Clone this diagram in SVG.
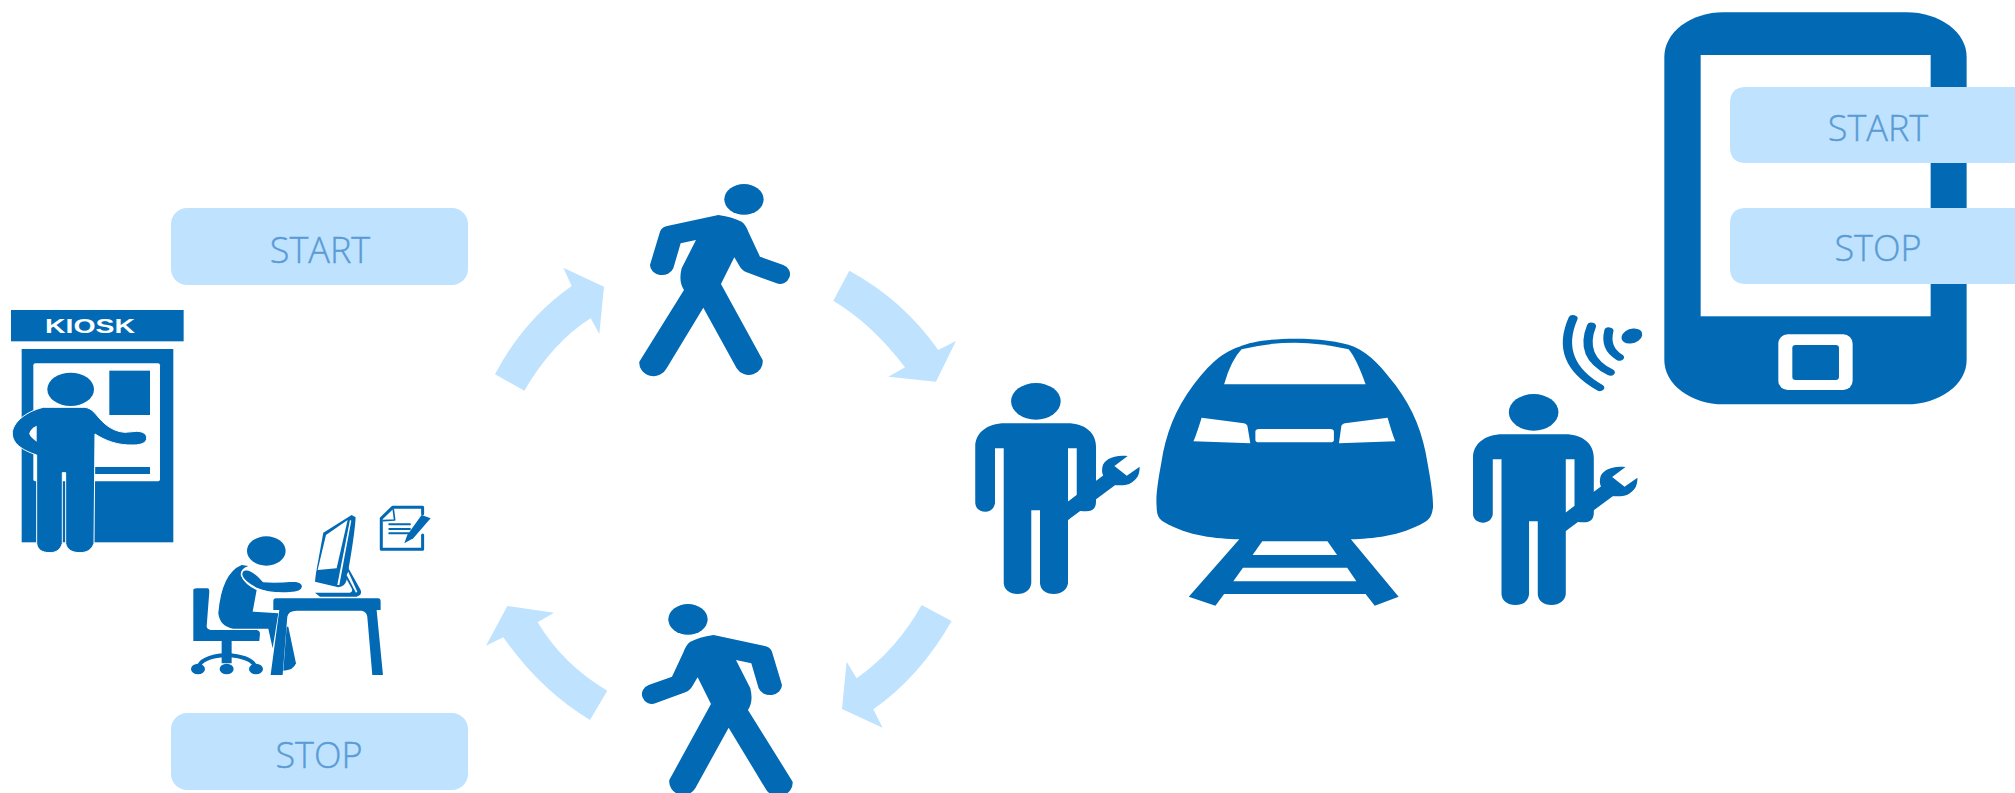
<svg xmlns="http://www.w3.org/2000/svg" xmlns:xlink="http://www.w3.org/1999/xlink" width="2015" height="793" viewBox="0 0 2015 793">
<style>
.b{fill:#0269b4}.w{fill:#fff}.l{fill:#bfe3ff}
.t{font-family:"Open Sans","Liberation Sans",sans-serif;font-weight:300;font-size:36px;fill:#5b9bd5;stroke:#5b9bd5;stroke-width:.4;text-anchor:middle}
.s{fill:none;stroke:#0269b4;stroke-linecap:round;stroke-linejoin:round}
</style>
<defs>
<g id="walker">
<ellipse class="b" cx="822" cy="118" rx="59" ry="46"/>
<path class="b" d="M745,165 Q790,172 815,185 Q828,195 835,215 L870,290 L940,315 A29,28 0 0 1 920,370 L830,337 Q815,330 810,320 L793,292 L753,372 L878,600 A42,40 0 0 1 800,625 L700,443 L590,625 A43,40 0 0 1 508,605 L642,390 Q625,365 635,325 L678,240 L632,250 L610,325 A36,30 0 0 1 540,315 L570,215 Q575,200 595,197 Z"/>
</g>
<g id="tech">
<ellipse class="b" cx="187" cy="244" rx="54" ry="55"/>
<path class="b" d="M120,310 L255,310 C295,310 318,340 318,380 L318,545 C318,565 310,574 297,574 C287,574 280,572 275,570 L257,600 L257,790 C255,810 243,822 226,822 C208,822 197,810 196,790 L196,571 L177,571 L177,790 C175,810 165,822 147,822 C130,822 118,810 117,790 L117,385 L98,385 L98,550 C96,566 88,575 77,575 C65,575 56,566 55,550 L55,380 C55,340 80,310 120,310Z"/>
<path class="w" d="M257,385 L276,385 L276,525 L257,545Z"/>
<path class="b" d="M257,545 L335,465 L360,495 L257,600Z"/>
<path class="b" d="M387,408 C355,403 335,420 332,440 C330,455 332,462 335,470 L345,492 C365,498 385,497 395,488 C410,475 413,460 413,440 L385,467 L358,438Z"/>
</g>
</defs>

<g id="connectors">
<g transform="translate(470,160) scale(0.3333)">
<path class="l" d="M75,643 Q160,480 305,378 L280,323 L402,380 L388,522 L362,475 Q250,545 163,692Z"/>
<path class="l" d="M1138,332 Q1300,420 1405,570 L1458,543 L1398,665 L1255,650 L1305,622 Q1210,495 1090,422Z"/>
</g>
<g transform="translate(470,580) scale(0.3333)">
<path class="l" d="M1355,75 Q1280,210 1160,295 L1130,245 L1116,387 L1238,443 L1210,388 Q1350,290 1445,123Z"/>
<path class="l" d="M412,332 Q280,255 203,127 L252,98 L112,78 L48,197 L100,172 Q210,330 360,420Z"/>
</g>
</g>

<g id="kiosk" transform="translate(0,280) scale(0.3333)">
<rect class="b" x="33" y="90" width="518" height="94"/>
<text x="270" y="159" font-family="Liberation Sans, sans-serif" font-weight="700" font-size="63" fill="#fff" text-anchor="middle" textLength="270" lengthAdjust="spacingAndGlyphs">KIOSK</text>
<rect class="b" x="65" y="207" width="455" height="580"/>
<rect class="w" x="100" y="250" width="380" height="354" rx="6"/>
<rect class="b" x="328" y="272" width="122" height="133"/>
<rect class="b" x="285" y="561" width="165" height="21"/>
<ellipse class="b" cx="212" cy="328" rx="70" ry="50"/>
<path class="b" stroke="#fff" stroke-width="3" d="M130,382 L255,382 C275,385 285,400 298,415 C320,440 345,455 375,457 L410,454 C430,454 440,463 440,474 C440,488 425,495 400,495 C355,497 315,482 285,462 L282,790 C275,810 260,818 240,818 C215,818 200,808 197,790 L197,578 L187,578 L187,790 C182,808 170,818 150,818 C125,818 112,808 110,790 L110,525 C65,510 37,490 37,460 C37,430 75,395 130,382Z"/>
<path class="w" d="M110,437 L110,485 Q88,470 88,460 Q92,445 110,437Z"/>
</g>

<g id="office-worker" transform="translate(0,280) scale(0.3333)">
<ellipse class="b" cx="799" cy="813" rx="58" ry="44"/>
<path class="b" d="M725,855 Q665,880 655,1000 Q660,1040 700,1046 L805,1046 L818,1105 L835,1000 L758,995 L770,930 Q735,915 722,885 Q722,865 745,858Z"/>
<path class="b" stroke="#fff" stroke-width="4" d="M735,870 Q755,865 790,905 Q830,908 880,903 Q908,905 908,920 Q905,938 870,938 Q810,942 770,925 Q730,905 725,885 Q725,872 735,870Z"/>
<path class="b" d="M865,1040 L888,1150 Q880,1172 850,1172 L860,1040Z"/>
<path class="b" d="M828,955 L1134,955 Q1142,955 1142,965 L1142,990 L1130,990 L1149,1185 L1117,1185 L1102,1010 Q1100,995 1085,992 L890,992 Q865,992 862,1010 L848,1185 L812,1185 L838,990 L820,990 L820,965 Q820,955 828,955Z"/>
<path class="b" d="M580,930 Q580,925 590,925 L622,925 Q628,925 628,935 L620,1040 Q622,1050 640,1050 L770,1050 Q780,1052 780,1062 L778,1083 L695,1083 L695,1150 L665,1150 L665,1083 L580,1083Z"/>
<path class="s" stroke-width="12" d="M595,1165 Q600,1130 680,1125 Q760,1130 768,1165"/>
<ellipse class="b" cx="594" cy="1167" rx="21" ry="16"/>
<ellipse class="b" cx="680" cy="1167" rx="21" ry="16"/>
<ellipse class="b" cx="768" cy="1167" rx="21" ry="16"/>
<path class="b" d="M1055,705 L1067,712 Q1065,760 1040,900 Q1035,920 1015,922 L945,905 L948,880 L970,758Z"/>
<path class="w" d="M978,765 L1043,720 L1010,865 L953,870Z"/>
<path class="w" d="M1050,720 L1054,722 L1018,915 L1012,915Z"/>
<path class="b" d="M1040,855 L1082,930 Q1088,945 1070,950 L960,950 L945,938 L1050,938 Q1060,935 1055,925 L1030,880Z"/>
<path class="w" d="M1045,875 L1072,935 L1068,938 L1040,885Z"/>
</g>

<g id="document" transform="translate(0,280) scale(0.3333)">
<path class="s" stroke-width="9" d="M1268,702 L1268,682 L1178,682 L1144,715 L1144,808 L1268,808 L1268,765"/>
<path class="s" stroke-width="5" d="M1180,688 L1184,720 L1150,722"/>
<path class="s" stroke-width="6" d="M1168,733 L1230,733 M1168,747 L1230,747 M1168,760 L1226,760"/>
<path class="b" d="M1213,790 L1222,765 L1265,705 L1292,715 L1240,775Z"/>
</g>

<g id="train" transform="translate(950,320) scale(0.4592,0.3333)">
<path class="b" d="M630,80 C680,48 820,48 880,80 C915,100 945,150 970,195 C1010,270 1030,340 1040,430 C1048,490 1052,530 1052,560 C1050,585 1045,597 1035,605 C980,650 920,655 873,658 L977,830 L925,857 L905,822 L597,822 L578,857 L520,830 L630,658 C580,655 520,650 465,605 C455,597 450,585 450,560 C448,530 452,490 460,430 C470,340 490,270 530,195 C555,150 585,100 630,80Z"/>
<path class="w" d="M635,88 Q750,48 868,88 Q885,115 905,193 L597,193 Q612,120 635,88Z"/>
<path class="w" d="M548,293 L640,310 Q647,312 648,320 L654,370 L530,364 Q535,350 548,293Z"/>
<rect class="w" x="665" y="327" width="171" height="40" rx="8"/>
<path class="w" d="M953,293 L860,310 Q853,312 852,320 L847,370 L970,364 Q965,350 953,293Z"/>
<path class="w" d="M680,664 L822,664 L843,705 L659,705Z"/>
<path class="w" d="M638,743 L865,743 L885,784 L617,784Z"/>
</g>

<g id="technician-1" transform="translate(950,320) scale(0.4592,0.3333)"><use xlink:href="#tech" href="#tech"/></g>
<g id="technician-2" transform="translate(950,320) scale(0.4592,0.3333)"><use xlink:href="#tech" href="#tech" x="1084" y="33"/></g>

<g id="wifi" transform="translate(950,320) scale(0.4592,0.3333)">
<ellipse class="b" cx="1485" cy="48" rx="25" ry="20" transform="rotate(-45 1485 48)"/>
<path class="s" stroke-width="20" d="M1435,32 Q1425,85 1458,112"/>
<path class="s" stroke-width="20" d="M1397,18 Q1370,110 1438,157"/>
<path class="s" stroke-width="20" d="M1357,-5 Q1315,125 1415,203"/>
</g>

<g id="walker-top" transform="translate(470,160) scale(0.3333)"><use xlink:href="#walker" href="#walker"/></g>
<g id="walker-bottom" transform="translate(470,580) scale(0.3333) translate(1476,0) scale(-1,1)"><use xlink:href="#walker" href="#walker"/></g>

<g id="phone" transform="translate(1640,0) scale(0.3333)">
<path class="b" d="M250,37 L800,37 A180,133 0 0 1 980,170 L980,1080 A180,133 0 0 1 800,1213 L250,1213 A177,133 0 0 1 73,1080 L73,170 A177,133 0 0 1 250,37Z"/>
<rect class="w" x="182" y="165" width="690" height="784"/>
<rect class="w" x="415" y="1003" width="223" height="167" rx="28"/>
<rect class="b" x="457" y="1035" width="140" height="105" rx="10"/>
</g>

<g id="phone-start"><path class="l" d="M2015,87 L1746,87 Q1730,87 1730,103 L1730,147 Q1730,163 1746,163 L2015,163Z"/><text class="t" x="1878" y="141">START</text></g>
<g id="phone-stop"><path class="l" d="M2015,208 L1746,208 Q1730,208 1730,224 L1730,268 Q1730,284 1746,284 L2015,284Z"/><text class="t" x="1878" y="261">STOP</text></g>
<g id="kiosk-start"><rect class="l" x="171" y="208" width="297" height="77" rx="16"/><text class="t" x="320" y="262.5">START</text></g>
<g id="kiosk-stop"><rect class="l" x="171" y="713" width="297" height="77" rx="16"/><text class="t" x="319" y="767.5">STOP</text></g>
</svg>
